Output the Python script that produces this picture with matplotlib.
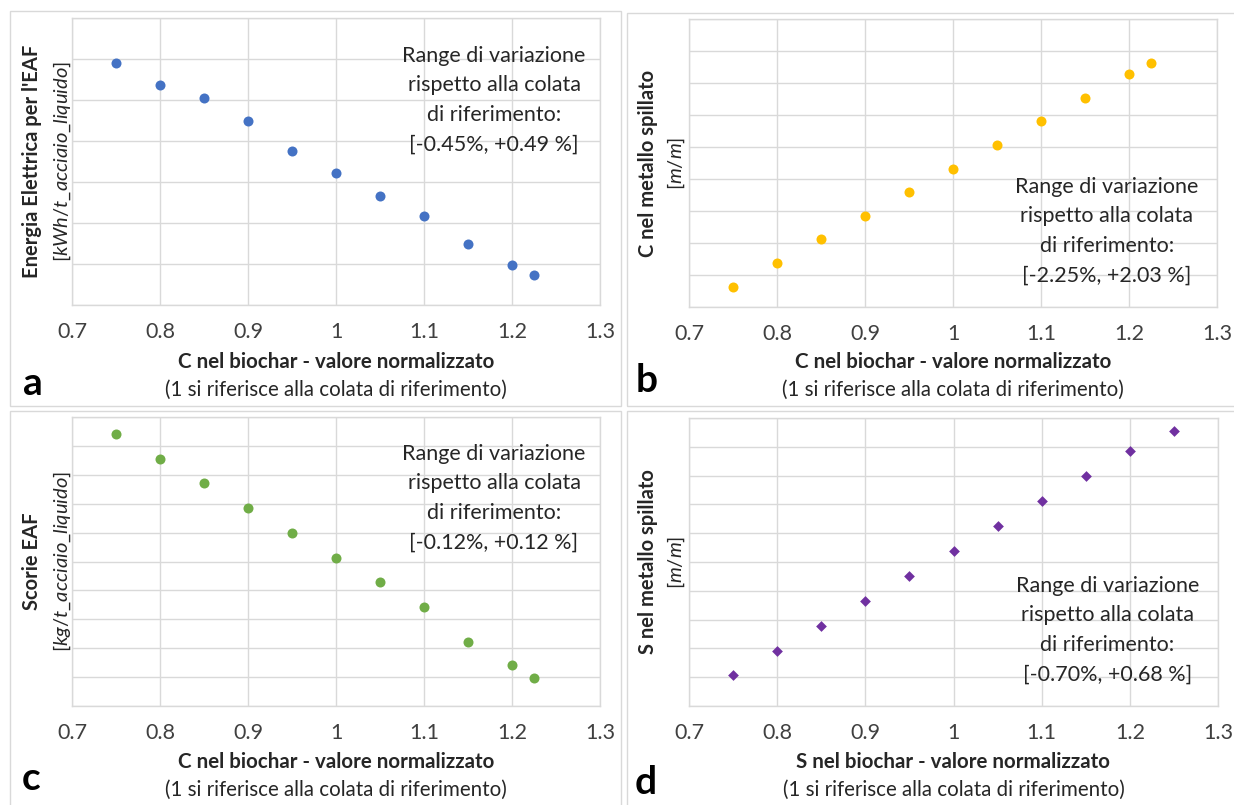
import matplotlib
matplotlib.use('Agg')
import matplotlib.pyplot as plt
from matplotlib.patches import Rectangle

plt.rcParams['font.family'] = ['Lato', 'DejaVu Sans']
plt.rcParams['mathtext.fontset'] = 'custom'
plt.rcParams['mathtext.rm'] = 'Lato'
plt.rcParams['mathtext.it'] = 'Lato:italic'

# valori (y in unita' di griglia, assi senza etichette)
x_c = [0.75, 0.8, 0.85, 0.9, 0.95, 1.0, 1.05, 1.1, 1.15, 1.2, 1.225]
x_s = [0.75, 0.8, 0.85, 0.9, 0.95, 1.0, 1.05, 1.1, 1.15, 1.2, 1.25]
energia = [5.90, 5.37, 5.04, 4.49, 3.76, 3.21, 2.67, 2.17, 1.49, 0.98, 0.72]
c_metallo = [0.64, 1.38, 2.12, 2.85, 3.58, 4.32, 5.07, 5.80, 6.54, 7.29, 7.63]
scorie = [9.40, 8.55, 7.70, 6.84, 6.00, 5.13, 4.30, 3.42, 2.23, 1.41, 0.98]
s_metallo = [1.09, 1.91, 2.77, 3.65, 4.53, 5.38, 6.25, 7.11, 7.97, 8.84, 9.56]

xticks = [0.7, 0.8, 0.9, 1.0, 1.1, 1.2, 1.3]
xtick_labels = ['0.7', '0.8', '0.9', '1', '1.1', '1.2', '1.3']

W, H = 1234, 805
GRID = '#D9D9D9'


def fx(px):
    return px / W


def fy(py):
    return 1 - py / H


fig = plt.figure(figsize=(W / 100, H / 100), dpi=100)

# cornici dei pannelli
for (l, t, r, b) in [(10, 11, 621, 406), (627, 13, 1240, 406),
                     (10, 411, 621, 810), (627, 411, 1240, 810)]:
    fig.patches.append(Rectangle((fx(l), fy(b)), (r - l) / W, (b - t) / H,
                                 transform=fig.transFigure, fill=False,
                                 edgecolor=GRID, linewidth=1))

panels = [
    dict(box=(72, 18, 600, 305), x=x_c, y=energia, n=7, color='#4472C4', marker='o', s=52,
         ylab="Energia Elettrica per l'EAF", unit=r"[$\mathit{kWh/t\_acciaio\_liquido}$]",
         xlab='C nel biochar - valore normalizzato', letter='a', lx=33, ly=383,
         yl1=32, yl2=62, ty=100, rng='[-0.45%, +0.49 %]'),
    dict(box=(689, 19, 1217, 307), x=x_c, y=c_metallo, n=9, color='#FFC000', marker='o', s=52,
         ylab='C nel metallo spillato', unit=r"[$\mathit{m/m}$]",
         xlab='C nel biochar - valore normalizzato', letter='b', lx=647, ly=380,
         yl1=648, yl2=676, ty=231, rng='[-2.25%, +2.03 %]'),
    dict(box=(72, 417, 600, 706), x=x_c, y=scorie, n=10, color='#70AD47', marker='o', s=52,
         ylab='Scorie EAF', unit=r"[$\mathit{kg/t\_acciaio\_liquido}$]",
         xlab='C nel biochar - valore normalizzato', letter='c', lx=31, ly=778,
         yl1=32, yl2=62, ty=498, rng='[-0.12%, +0.12 %]'),
    dict(box=(689, 418, 1218, 706), x=x_s, y=s_metallo, n=10, color='#7030A0', marker='D', s=30,
         ylab='S nel metallo spillato', unit=r"[$\mathit{m/m}$]",
         xlab='S nel biochar - valore normalizzato', letter='d', lx=646, ly=782,
         yl1=648, yl2=676, ty=630, rng='[-0.70%, +0.68 %]'),
]

for p in panels:
    l, t, r, b = p['box']
    ax = fig.add_axes([fx(l), fy(b), (r - l) / W, (b - t) / H])
    ax.scatter(p['x'], p['y'], s=p['s'], color=p['color'], marker=p['marker'],
               linewidths=0, zorder=3, clip_on=False)
    ax.set_xlim(0.7, 1.3)
    ax.set_ylim(0, p['n'])
    ax.set_xticks(xticks)
    ax.set_xticklabels(xtick_labels)
    ax.set_yticks(range(p['n'] + 1))
    ax.set_yticklabels([])
    ax.grid(True, color=GRID, linewidth=1)
    ax.set_axisbelow(True)
    for sp in ax.spines.values():
        sp.set_color(GRID)
        sp.set_linewidth(1)
    ax.tick_params(length=0, labelsize=15.5, labelcolor='#404040', pad=12)

    cx = (l + r) / 2
    off = 0 if b < 400 else 400
    fig.text(fx(cx), fy(362 + off), p['xlab'], ha='center', va='center',
             fontsize=14.8, fontweight='bold', color='#262626')
    fig.text(fx(cx), fy(390 + off), '(1 si riferisce alla colata di riferimento)',
             ha='center', va='center', fontsize=14.8, color='#262626')
    cy = (t + b) / 2
    fig.text(fx(p['yl1']), fy(cy), p['ylab'], rotation=90, ha='center', va='center',
             fontsize=14.5, fontweight='bold', color='#262626')
    fig.text(fx(p['yl2']), fy(cy), p['unit'], rotation=90, ha='center', va='center',
             fontsize=14.5, color='#262626')
    fig.text(fx(p['lx']), fy(p['ly']), p['letter'], ha='center', va='center',
             fontsize=28, fontweight='bold', color='black')
    fig.text(fx((l + r) / 2 + 158 if l < 600 else (l + r) / 2 + 154), fy(p['ty']),
             'Range di variazione\nrispetto alla colata\ndi riferimento:\n' + p['rng'],
             ha='center', va='center', fontsize=15.5, color='#262626', linespacing=1.6)

fig.savefig('out.png', dpi=100, facecolor='white')
